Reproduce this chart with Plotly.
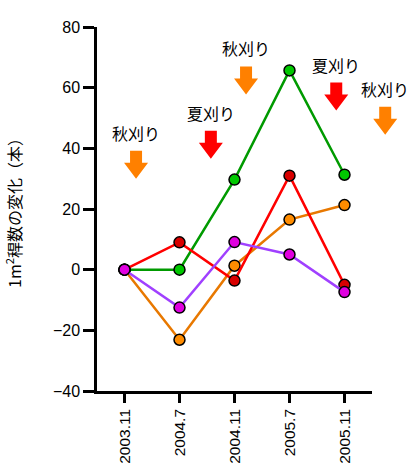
import plotly.graph_objects as go

# Survey dates (category axis)
dates = ["2003.11", "2004.7", "2004.11", "2005.7", "2005.11"]

# Change in culm count per m² for each plot
green_vals = [0, 0, 29.7, 65.7, 31.3]
orange_vals = [0, -23.1, 1.3, 16.5, 21.3]
red_vals = [0, 9.0, -3.6, 31.0, -5.0]
purple_vals = [0, -12.5, 9.1, 5.0, -7.4]

# Mowing events: label, arrow colour, position (category units), arrow top (data units)
cut_labels = ["秋刈り", "夏刈り", "秋刈り", "夏刈り", "秋刈り"]
cut_colors = ["#ff8000", "#ff0000", "#ff8000", "#ff0000", "#ff8000"]
cut_x = [0.21, 1.57, 2.21, 3.85, 4.74]
cut_y = [39.2, 45.8, 67.0, 61.7, 53.7]

X_RANGE = [-0.5, 4.5]
Y_RANGE = [-40, 80]
W, H = 411, 465
M = dict(l=97, r=39, t=27, b=74)
PW = W - M["l"] - M["r"]
PH = H - M["t"] - M["b"]

series = [
    (green_vals, "#009a00", "#00c800"),
    (orange_vals, "#e87800", "#ff8c00"),
    (red_vals, "#ff0000", "#d80000"),
    (purple_vals, "#a040ff", "#e000e0"),
]

fig = go.Figure()
idx = list(range(len(dates)))
for vals, lc, mc in series:
    fig.add_trace(go.Scatter(
        x=idx, y=vals, mode="lines+markers",
        line=dict(color=lc, width=2.5),
        marker=dict(size=11, color=mc, line=dict(color="black", width=1.5)),
        cliponaxis=False, showlegend=False,
    ))


def px_x(v):
    return (v - X_RANGE[0]) / (X_RANGE[1] - X_RANGE[0])


def px_y(v):
    return (v - Y_RANGE[0]) / (Y_RANGE[1] - Y_RANGE[0])


# Block arrows drawn in paper coordinates so they may sit outside the plot area
head_w, shaft_w, shaft_h, head_h = 24, 12, 12, 16
shapes = []
annotations = []
for lab, col, xv, yv in zip(cut_labels, cut_colors, cut_x, cut_y):
    cx = px_x(xv)
    top = px_y(yv)
    dx = lambda p: p / PW
    dy = lambda p: p / PH
    pts = [
        (cx - dx(shaft_w / 2), top),
        (cx + dx(shaft_w / 2), top),
        (cx + dx(shaft_w / 2), top - dy(shaft_h)),
        (cx + dx(head_w / 2), top - dy(shaft_h)),
        (cx, top - dy(shaft_h + head_h)),
        (cx - dx(head_w / 2), top - dy(shaft_h)),
        (cx - dx(shaft_w / 2), top - dy(shaft_h)),
    ]
    path = "M " + " L ".join(f"{a:.5f},{b:.5f}" for a, b in pts) + " Z"
    shapes.append(dict(type="path", xref="paper", yref="paper", path=path,
                       fillcolor=col, line=dict(width=0), layer="above"))
    annotations.append(dict(
        x=cx, y=top, xref="paper", yref="paper", text=lab, showarrow=False,
        xanchor="center", yanchor="bottom", yshift=4,
        font=dict(family="Noto Sans CJK JP", size=16, color="black"),
    ))

fig.update_layout(
    width=W, height=H, margin=M,
    template="none",
    paper_bgcolor="white", plot_bgcolor="white",
    shapes=shapes, annotations=annotations,
    font=dict(family="Liberation Sans, Arial", size=16, color="black"),
    xaxis=dict(
        range=X_RANGE, tickmode="array", tickvals=idx, ticktext=dates,
        tickangle=-90, ticks="outside", ticklen=9, tickwidth=2.5,
        tickcolor="black", showline=True, linecolor="black", linewidth=2.5,
        showgrid=False, zeroline=False, automargin=False,
        tickfont=dict(family="Liberation Sans, Arial", size=15.5),
    ),
    yaxis=dict(
        range=Y_RANGE, dtick=20, ticks="outside", ticklen=11, tickwidth=2.5,
        tickcolor="black", showline=True, linecolor="black", linewidth=2.5,
        showgrid=False, zeroline=False, automargin=False,
        tickfont=dict(family="Liberation Sans, Arial", size=16),
        title=dict(text="1m<sup>2</sup>稈数の変化（本）", standoff=28,
                   font=dict(family="Noto Sans CJK JP", size=16)),
    ),
)

fig.write_html("out.html")
